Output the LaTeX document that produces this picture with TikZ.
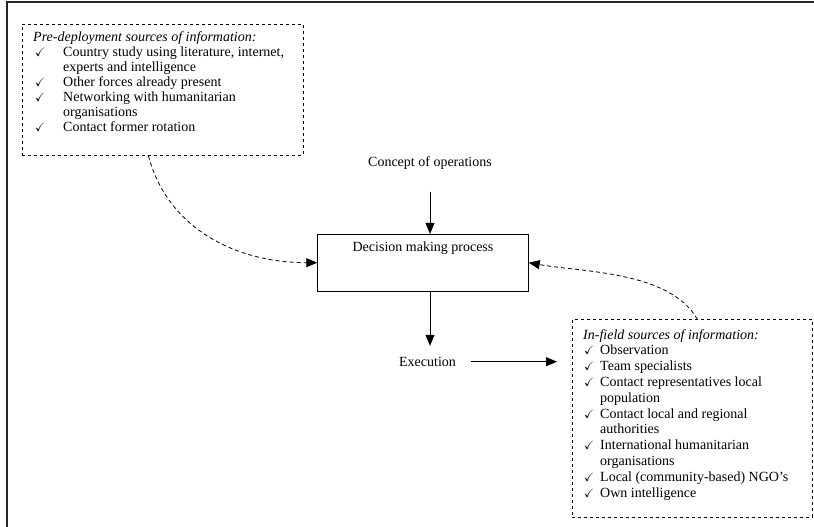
\documentclass[tikz,border=0pt]{standalone}
\usepackage{fontspec}
\setmainfont{Liberation Serif}
\usepackage{amssymb}
\usepackage{tikz}
\usetikzlibrary{arrows.meta, positioning}
\newcommand{\chk}{{\fontsize{12}{12}\selectfont$\checkmark$}}

\begin{document}
\begin{tikzpicture}[x=1pt, y=1pt, font=\fontsize{14}{15}\selectfont,
        every node/.append style={inner sep=3pt}]
      \tikzstyle{srcbox} = [draw, dashed, line width=0.8pt, anchor=north west, inner sep=0pt]
      \tikzstyle{list} = [anchor=base west, inner sep=0pt]
      \tikzstyle{flow} = [-{Triangle[length=11pt,width=9pt]}, line width=0.8pt]
      \tikzstyle{feedback} = [flow, dash pattern=on 4pt off 3pt]
      \useasboundingbox (0,0) rectangle (814,-527);
      \draw[line width=1.4pt, black!85] (7,-527) -- (7,-2) -- (814,-2);
      \node (pre) [srcbox, minimum width=281pt, minimum height=131pt] at (22,-24) {};
      \node (prelist) [list, font=\fontsize{14}{14.9}\selectfont] at (33,-42) {%
        \begin{tabular}[t]{@{}p{30pt}@{}l@{}}
        \multicolumn{2}{@{}l@{}}{\textit{Pre-deployment sources of information:}}\\
        \hspace{2pt}\chk & Country study using literature, internet,\\
        & experts and intelligence\\
        \hspace{2pt}\chk & Other forces already present\\
        \hspace{2pt}\chk & Networking with humanitarian\\
        & organisations\\
        \hspace{2pt}\chk & Contact former rotation
        \end{tabular}};
      \node (concept) at (430,-163) {Concept of operations};
      \node (process) [draw, line width=0.8pt, minimum width=210.6pt, minimum height=56.7pt] at (423,-262.7) {};
      \node (processlabel) [below=5pt of process.north] {Decision making process};
      \node (execution) at (427.5,-361.7) {Execution};
      \node (infield) [srcbox, minimum width=240pt, minimum height=197.4pt] at (572,-319.3) {};
      \node (infieldlist) [list, font=\fontsize{14}{15.8}\selectfont] at (583,-339) {%
        \begin{tabular}[t]{@{}p{17pt}@{}l@{}}
        \multicolumn{2}{@{}l@{}}{\textit{In-field sources of information:}}\\
        \hspace{1pt}\chk & Observation\\
        \hspace{1pt}\chk & Team specialists\\
        \hspace{1pt}\chk & Contact representatives local\\
        & population\\
        \hspace{1pt}\chk & Contact local and regional\\
        & authorities\\
        \hspace{1pt}\chk & International humanitarian\\
        & organisations\\
        \hspace{1pt}\chk & Local (community-based) NGO's\\
        \hspace{1pt}\chk & Own intelligence
        \end{tabular}};
      \draw[flow] ([yshift=-19pt]concept.south) -- (concept.south |- process.north);
      \draw[flow, shorten >=8pt] (concept.south |- process.south) -- (concept.south |- execution.north);
      \draw[flow, shorten <=12pt, shorten >=15pt] (execution.east) -- (execution.east -| infield.west);
      \draw[feedback] ([xshift=-14.5pt]pre.south) to[out=-75, in=180] (process.west);
      \draw[feedback] ([xshift=5pt]infield.north) to[out=120, in=-10, looseness=0.8] (process.east);
    \end{tikzpicture}
\end{document}
